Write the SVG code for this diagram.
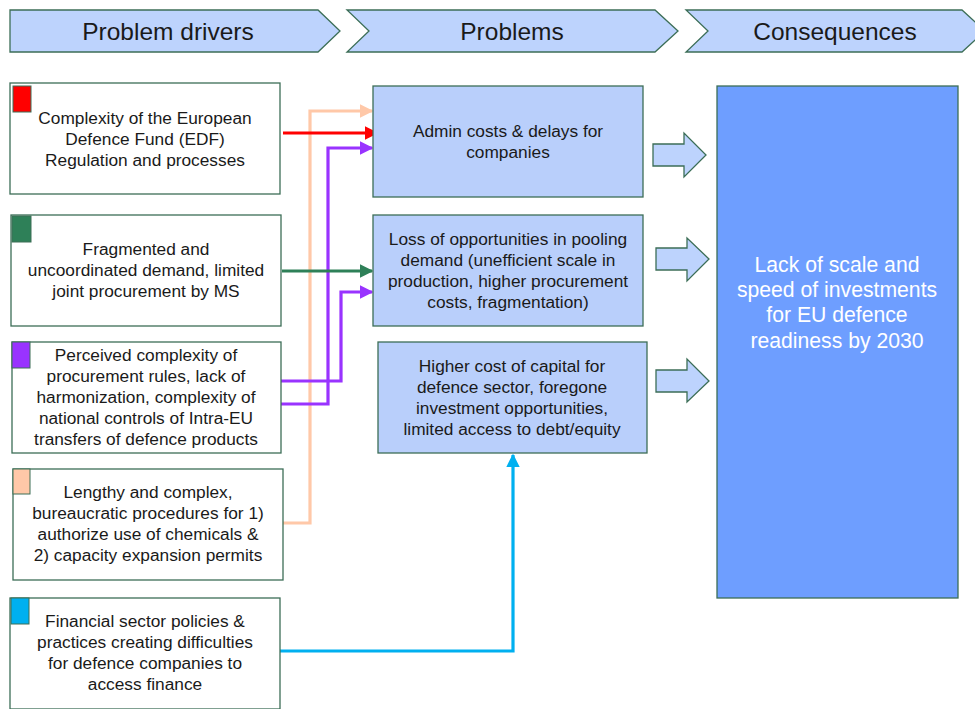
<svg xmlns="http://www.w3.org/2000/svg" width="975" height="709" viewBox="0 0 975 709">
<style>
.hdr{fill:#bdd3fd;stroke:#3c6e57;stroke-width:1.3}
.ht{font-family:"Liberation Sans",Arial,sans-serif;font-size:24.5px;fill:#1a1a1a;text-anchor:middle}
.drv{fill:#ffffff;stroke:#3c6e57;stroke-width:1.3}
.prb{fill:#b9cffb;stroke:#3c6e57;stroke-width:1.3}
.con{fill:#6e9eff;stroke:#3c6e57;stroke-width:1.3}
.sq{stroke:#3c6e57;stroke-width:1}
.t{font-family:"Liberation Sans",Arial,sans-serif;font-size:17.3px;fill:#1a1a1a;text-anchor:middle}
.tw{font-family:"Liberation Sans",Arial,sans-serif;font-size:21.2px;fill:#ffffff;text-anchor:middle}
.blk{fill:#bdd3fd;stroke:#3c6e57;stroke-width:1.3}
.ln{fill:none;stroke-width:3.2}
</style>
<defs>
<marker id="mRed" viewBox="0 0 10 10" refX="9" refY="5" markerWidth="4.3" markerHeight="4.3" orient="auto" markerUnits="strokeWidth"><path d="M0,0L10,5L0,10z" fill="#ff0000"/></marker>
<marker id="mGreen" viewBox="0 0 10 10" refX="9" refY="5" markerWidth="4.3" markerHeight="4.3" orient="auto" markerUnits="strokeWidth"><path d="M0,0L10,5L0,10z" fill="#2e8058"/></marker>
<marker id="mPurple" viewBox="0 0 10 10" refX="9" refY="5" markerWidth="4.3" markerHeight="4.3" orient="auto" markerUnits="strokeWidth"><path d="M0,0L10,5L0,10z" fill="#9933ff"/></marker>
<marker id="mPeach" viewBox="0 0 10 10" refX="9" refY="5" markerWidth="4.3" markerHeight="4.3" orient="auto" markerUnits="strokeWidth"><path d="M0,0L10,5L0,10z" fill="#ffc8a8"/></marker>
<marker id="mBlue" viewBox="0 0 10 10" refX="9" refY="5" markerWidth="4.3" markerHeight="4.3" orient="auto" markerUnits="strokeWidth"><path d="M0,0L10,5L0,10z" fill="#00b0f0"/></marker>
</defs>
<rect width="975" height="709" fill="#ffffff"/>

<g id="header-drivers">
<path class="hdr" d="M10,10H318L340,31L318,52H10Z"/>
<text class="ht" x="168" y="40">Problem drivers</text>
</g>
<g id="header-problems">
<path class="hdr" d="M347,10H655L678,31L655,52H347L369,31Z"/>
<text class="ht" x="512" y="40">Problems</text>
</g>
<g id="header-consequences">
<path class="hdr" d="M686,10H962L985,31L962,52H686L708,31Z"/>
<text class="ht" x="835" y="40">Consequences</text>
</g>

<g id="connectors">
<path class="ln" stroke="#ffc8a8" d="M279,523H310V111H372" marker-end="url(#mPeach)"/>
<path class="ln" stroke="#ff0000" d="M283,133H377" marker-end="url(#mRed)"/>
<path class="ln" stroke="#9933ff" d="M281,404H328V148H372" marker-end="url(#mPurple)"/>
<path class="ln" stroke="#9933ff" d="M279,381H341V292H372" marker-end="url(#mPurple)"/>
<path class="ln" stroke="#2e8058" d="M282,271H372" marker-end="url(#mGreen)"/>
<path class="ln" stroke="#00b0f0" d="M280,651H513V455" marker-end="url(#mBlue)"/>
</g>

<g id="driver1">
<rect class="drv" x="10" y="83" width="270" height="111"/>
<rect class="sq" x="13" y="86" width="18" height="26" fill="#ff0000"/>
<text class="t" x="145" y="124">Complexity of the European</text>
<text class="t" x="145" y="145">Defence Fund (EDF)</text>
<text class="t" x="145" y="166">Regulation and processes</text>
</g>
<g id="driver2">
<rect class="drv" x="11" y="215" width="270" height="111"/>
<rect class="sq" x="12" y="216" width="19" height="26" fill="#2e8058"/>
<text class="t" x="146" y="255">Fragmented and</text>
<text class="t" x="146" y="276">uncoordinated demand, limited</text>
<text class="t" x="146" y="297">joint procurement by MS</text>
</g>
<g id="driver3">
<rect class="drv" x="12" y="342" width="269" height="111"/>
<rect class="sq" x="12" y="342" width="18" height="26" fill="#9933ff"/>
<text class="t" x="146" y="361">Perceived complexity of</text>
<text class="t" x="146" y="382">procurement rules, lack of</text>
<text class="t" x="146" y="403">harmonization, complexity of</text>
<text class="t" x="146" y="424">national controls of Intra-EU</text>
<text class="t" x="146" y="445">transfers of defence products</text>
</g>
<g id="driver4">
<rect class="drv" x="13" y="469" width="270" height="111"/>
<rect class="sq" x="13" y="469" width="17" height="25" fill="#ffc8a8"/>
<text class="t" x="148" y="498">Lengthy and complex,</text>
<text class="t" x="148" y="519">bureaucratic procedures for 1)</text>
<text class="t" x="148" y="540">authorize use of chemicals &amp;</text>
<text class="t" x="148" y="561">2) capacity expansion permits</text>
</g>
<g id="driver5">
<rect class="drv" x="10" y="598" width="270" height="111"/>
<rect class="sq" x="11" y="598" width="18" height="26" fill="#00b0f0"/>
<text class="t" x="145" y="627">Financial sector policies &amp;</text>
<text class="t" x="145" y="648">practices creating difficulties</text>
<text class="t" x="145" y="669">for defence companies to</text>
<text class="t" x="145" y="690">access finance</text>
</g>

<g id="problem1">
<rect class="prb" x="373" y="86" width="270" height="111"/>
<text class="t" x="508" y="137">Admin costs &amp; delays for</text>
<text class="t" x="508" y="158">companies</text>
</g>
<g id="problem2">
<rect class="prb" x="373" y="215" width="270" height="111"/>
<text class="t" x="508" y="245">Loss of opportunities in pooling</text>
<text class="t" x="508" y="266">demand (unefficient scale in</text>
<text class="t" x="508" y="287">production, higher procurement</text>
<text class="t" x="508" y="308">costs, fragmentation)</text>
</g>
<g id="problem3">
<rect class="prb" x="378" y="342" width="269" height="111"/>
<text class="t" x="512" y="372">Higher cost of capital for</text>
<text class="t" x="512" y="393">defence sector, foregone</text>
<text class="t" x="512" y="414">investment opportunities,</text>
<text class="t" x="512" y="435">limited access to debt/equity</text>
</g>

<g id="block-arrows">
<path class="blk" d="M653,144H684V133L706,155L684,177V166H653Z"/>
<path class="blk" d="M656,248H687V238L709,259L687,281V270H656Z"/>
<path class="blk" d="M656,370H687V359L709,381L687,402V392H656Z"/>
</g>

<g id="consequence">
<rect class="con" x="717" y="86" width="241" height="512"/>
<text class="tw" x="837" y="272">Lack of scale and</text>
<text class="tw" x="837" y="297">speed of investments</text>
<text class="tw" x="837" y="322">for EU defence</text>
<text class="tw" x="837" y="348">readiness by 2030</text>
</g>
</svg>
